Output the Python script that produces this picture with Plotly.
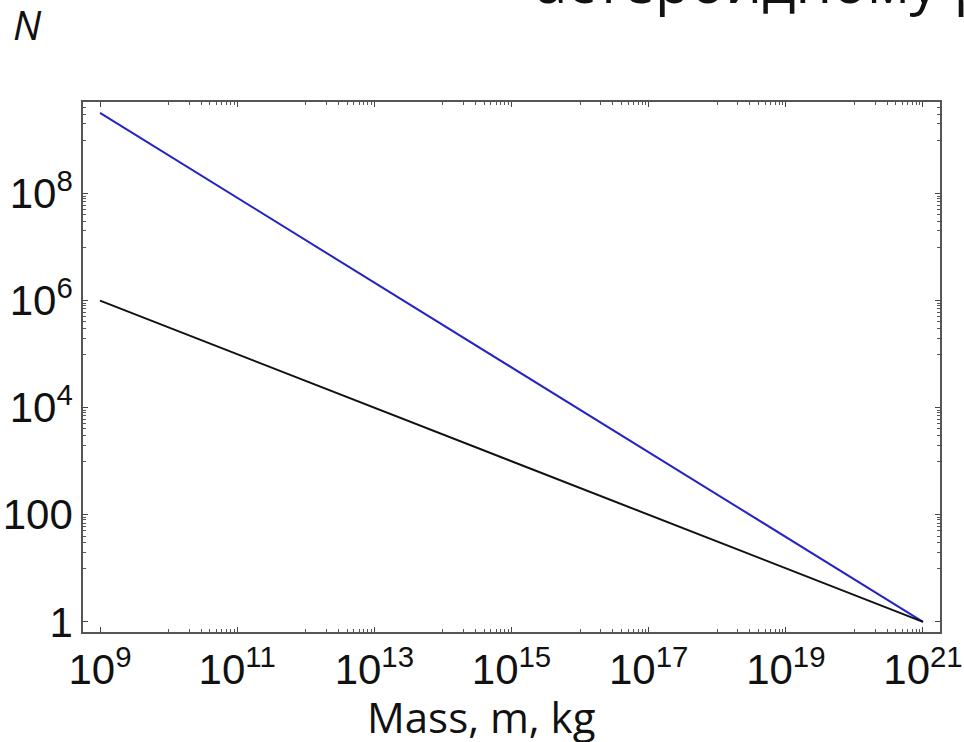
import plotly.graph_objects as go

# Data
mass = [1e9, 1e21]
n_blue = [3.2e9, 1.0]
n_black = [1e6, 1.0]

x_tick_vals = [1e9, 1e11, 1e13, 1e15, 1e17, 1e19, 1e21]
x_tick_text = ["10<sup>9</sup>", "10<sup>11</sup>", "10<sup>13</sup>", "10<sup>15</sup>",
               "10<sup>17</sup>", "10<sup>19</sup>", "10<sup>21</sup>"]
y_tick_vals = [1, 100, 1e4, 1e6, 1e8]
y_tick_text = ["1", "100", "10<sup>4</sup>", "10<sup>6</sup>", "10<sup>8</sup>"]

x_minor_exps = [10, 12, 14, 16, 18, 20]
y_minor_exps = [1, 3, 5, 7, 9]
x_minor = [k * 10.0 ** e for e in x_minor_exps for k in range(1, 10)]
y_minor = [k * 10.0 ** e for e in y_minor_exps for k in range(1, 10)]

W, H = 964, 742
L, R, T, B = 83, 24, 102, 110
pw, ph = W - L - R, H - T - B

def px(x):
    return (x - L) / pw

def py(y):
    return (H - B - y) / ph

fig = go.Figure()
fig.add_trace(go.Scatter(x=mass, y=n_blue, mode="lines",
                         line=dict(color="#2424c4", width=2), showlegend=False))
fig.add_trace(go.Scatter(x=mass, y=n_black, mode="lines",
                         line=dict(color="#111111", width=2), showlegend=False))

axis_common = dict(
    showgrid=False, zeroline=False, showline=True, linecolor="#555555", linewidth=1.5,
    mirror="ticks", ticks="inside", ticklen=5, tickwidth=1, tickcolor="#444444",
    automargin=False,
    tickfont=dict(family="Liberation Sans", size=42, color="#111111"),
)

fig.update_xaxes(type="log", range=[8.752, 21.248], tickmode="array",
                 tickvals=x_tick_vals, ticktext=x_tick_text,
                 minor=dict(tickmode="array", tickvals=x_minor, ticks="inside",
                            ticklen=3, tickcolor="#555555", tickwidth=1),
                 **axis_common)
fig.update_yaxes(type="log", range=[-0.19, 9.71], tickmode="array",
                 tickvals=y_tick_vals, ticktext=y_tick_text,
                 minor=dict(tickmode="array", tickvals=y_minor, ticks="inside",
                            ticklen=3, tickcolor="#555555", tickwidth=1),
                 **axis_common)

fig.add_annotation(text="Mass, m, kg", xref="paper", yref="paper",
                   x=px(481), y=py(716), xanchor="center", yanchor="middle",
                   showarrow=False,
                   font=dict(family="Open Sans", size=42, color="#111111"))
fig.add_annotation(text="<i>N</i>", xref="paper", yref="paper",
                   x=px(27), y=py(24), xanchor="center", yanchor="middle",
                   showarrow=False,
                   font=dict(family="Open Sans", size=40, color="#111111"))
fig.add_annotation(text="астероидному р", xref="paper", yref="paper",
                   x=px(533), y=py(-19), xanchor="left", yanchor="middle",
                   showarrow=False,
                   font=dict(family="Open Sans", size=58, color="#111111"))

fig.update_layout(
    width=W, height=H, margin=dict(l=L, r=R, t=T, b=B),
    paper_bgcolor="white", plot_bgcolor="white",
)

fig.write_html("out.html")
